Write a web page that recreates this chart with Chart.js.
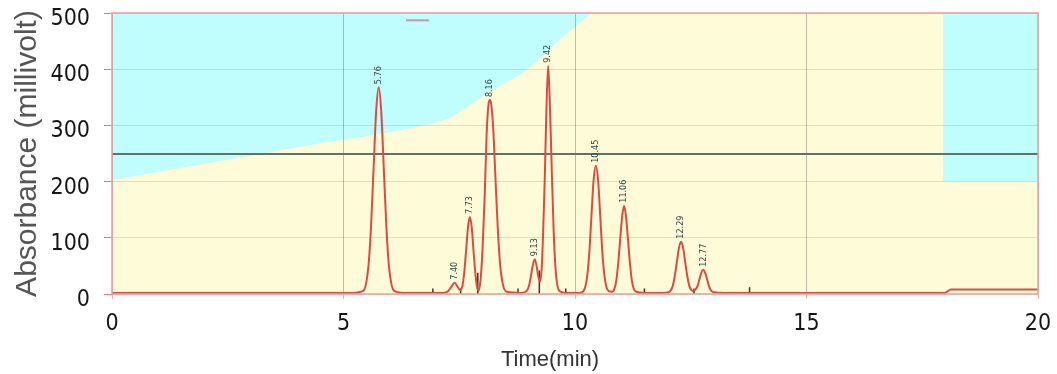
<!DOCTYPE html>
<html><head><meta charset="utf-8">
<script src="https://cdn.jsdelivr.net/npm/chart.js@4"></script>
<style>html,body{margin:0;padding:0;background:#fff;}</style>
</head><body>
<canvas id="c" width="1057" height="374"></canvas>
<script>
// ---- data ----
const traceTimes = [0,5.2,5.43,5.54,5.595,5.65,5.705,5.76,5.815,5.87,5.925,5.98,6.09,6.3,
  7.15,7.26,7.33,7.40,7.47,7.52,7.57,7.61,7.65,7.69,7.73,7.77,7.81,7.85,7.89,7.92,
  7.96,8.00,8.05,8.09,8.13,8.16,8.19,8.23,8.28,8.33,8.38,8.44,8.52,
  8.85,8.95,9.00,9.04,9.08,9.13,9.17,9.21,9.245,9.28,9.31,9.345,9.38,9.42,9.46,9.50,9.54,9.58,9.62,9.67,9.8,
  10.1,10.17,10.22,10.265,10.31,10.355,10.40,10.45,10.50,10.545,10.59,10.635,10.68,10.73,
  10.80,10.85,10.89,10.93,10.975,11.02,11.06,11.10,11.145,11.19,11.23,11.27,11.32,11.5,
  11.9,12.02,12.065,12.11,12.155,12.20,12.245,12.29,12.335,12.38,12.425,12.47,12.515,12.56,
  12.61,12.65,12.69,12.73,12.77,12.81,12.85,12.89,12.93,12.97,13.01,13.2,17.98,18.12,20];
const traceValues = [2,2,6,51,121,224,325,368,325,224,121,51,6,2,
  2,5,13,20,12,7,15,40,80,120,137,118,75,35,10,6,
  25,75,175,282,336,345,338,300,210,120,55,18,4,
  2,5,13,28,48,62,50,30,22,45,105,200,320,406,330,215,110,45,15,5,2,
  2,4,12,33,75,139,201,228,201,139,75,33,12,5,
  4,9,23,52,96,139,157,139,96,52,23,9,4,2,
  2,3,6,14,32,57,82,93,82,57,32,14,7,5,
  9,15,27,38,43,38,27,15,7,4,3,2,2,8,8];

// mobile-phase gradient boundary (yellow below, cyan above)
const gradientTimes  = [0,4.7,5.4,6.2,6.9,7.3,7.75,8.3,8.8,9.2,9.7,10.35,17.95,17.95,20];
const gradientValues = [203,271,280,291,303,313,337,367,389,415,455,500,500,201,201];

// horizontal reference line
const refLineTimes = [0,20];
const refLineValues = [249,249];

// small dash near the top
const dashTimes = [6.35,6.85];
const dashValues = [487,487];

// peak labels
const peakTimes   = [5.76,7.40,7.73,8.16,9.13,9.42,10.45,11.06,12.29,12.77];
const peakHeights = [368,20,137,345,62,406,228,157,93,43];
const peakLabels  = ['5.76','7.40','7.73','8.16','9.13','9.42','10.45','11.06','12.29','12.77'];

// integration markers
const markerTimes = [6.93,7.53,7.90,8.77,9.23,9.80,11.50,12.57,13.77];
const markerTops  = [10,10,38,10,42,10,10,10,12];

// axis ticks
const xTicks = [0,5,10,15,20];
const yTicks = [0,100,200,300,400,500];

const xTitle = 'Time(min)';
const yTitle = 'Absorbance (millivolt)';

// ---- build ----
const pts = (xs, ys) => xs.map((x,i)=>({x:x,y:ys[i]}));
const markerPts = [];
markerTimes.forEach((t,i)=>{ markerPts.push({x:t,y:0},{x:t,y:markerTops[i]},{x:t,y:null}); });

const bgPlugin = {
  id:'bg',
  beforeDraw(chart){
    const {ctx, chartArea:a} = chart;
    ctx.save(); ctx.fillStyle = '#c0fdfd';
    ctx.fillRect(a.left, a.top, a.right-a.left, a.bottom-a.top); ctx.restore();
  },
  afterDatasetsDraw(chart){
    const {ctx, scales} = chart;
    ctx.save();
    ctx.font = '9px "DejaVu Sans Condensed"';
    ctx.fillStyle = '#2f4242';
    ctx.textAlign = 'left'; ctx.textBaseline = 'middle';
    peakTimes.forEach((t,i)=>{
      const x = scales.x.getPixelForValue(t);
      const y = scales.y.getPixelForValue(peakHeights[i]) - 3;
      ctx.save(); ctx.translate(x,y); ctx.rotate(-Math.PI/2);
      ctx.fillText(peakLabels[i],0,0); ctx.restore();
    });
    ctx.restore();
  },
  afterDraw(chart){
    const {ctx, chartArea:a} = chart;
    ctx.save();
    ctx.strokeStyle = '#e8a0a0'; ctx.lineWidth = 1.5;
    ctx.strokeRect(a.left, a.top, a.right-a.left, a.bottom-a.top);
    ctx.font = '22px "Liberation Sans"'; ctx.fillStyle = '#333';
    ctx.textAlign = 'center'; ctx.textBaseline = 'middle';
    ctx.fillText(xTitle, (a.left+a.right)/2 - 25, 360);
    ctx.restore();
  }
};

new Chart(document.getElementById('c'), {
  type:'line',
  data:{ datasets:[
    {label:'trace', data:pts(traceTimes,traceValues), borderColor:'#dc4b43', borderWidth:2,
     pointRadius:0, cubicInterpolationMode:'monotone', fill:false, order:1},
    {label:'markers', data:markerPts, borderColor:'#2f3a30', borderWidth:1.5, pointRadius:0,
     spanGaps:false, fill:false, order:2},
    {label:'dash', data:pts(dashTimes,dashValues), borderColor:'#c898a8', borderWidth:2, pointRadius:0, fill:false, order:3},
    {label:'ref', data:pts(refLineTimes,refLineValues), borderColor:'#627266', borderWidth:2, pointRadius:0, fill:false, order:4},
    {label:'gradient', data:pts(gradientTimes,gradientValues), borderColor:'rgba(0,0,0,0)', borderWidth:0,
     backgroundColor:'#fefcd8', pointRadius:0, fill:'origin', tension:0, order:10}
  ]},
  options:{
    responsive:false, devicePixelRatio:1, animation:false,
    layout:{padding:{left:0,right:19,top:13,bottom:0}},
    plugins:{legend:{display:false}, tooltip:{enabled:false}},
    scales:{
      x:{type:'linear', min:0, max:20,
        afterBuildTicks(s){ s.ticks = xTicks.map(v=>({value:v})); },
        afterFit(s){ s.height = 80; s.paddingLeft = 0; s.paddingRight = 0; },
        grid:{z:1, color:'rgba(110,110,110,0.45)', lineWidth:1, tickLength:5, tickColor:'rgba(230,150,150,0.7)'},
        border:{display:false},
        ticks:{font:{family:'"DejaVu Sans Condensed"', size:23}, color:'#151515', padding:11, maxRotation:0}
      },
      y:{min:0, max:500,
        afterBuildTicks(s){ s.ticks = yTicks.map(v=>({value:v})); },
        afterFit(s){ s.width = 112; s.paddingTop = 0; s.paddingBottom = 0; },
        grid:{z:1, color:'rgba(100,110,90,0.2)', lineWidth:1, tickLength:8, tickColor:'#e07a7a'},
        border:{display:false},
        ticks:{font:{family:'"DejaVu Sans Condensed"', size:23}, color:'#151515', padding:14, labelOffset:6},
        title:{display:true, text:yTitle, color:'#555', font:{family:'"Liberation Sans"', size:30}, padding:{top:10,bottom:0}}
      }
    }
  },
  plugins:[bgPlugin]
});
</script>
</body></html>
